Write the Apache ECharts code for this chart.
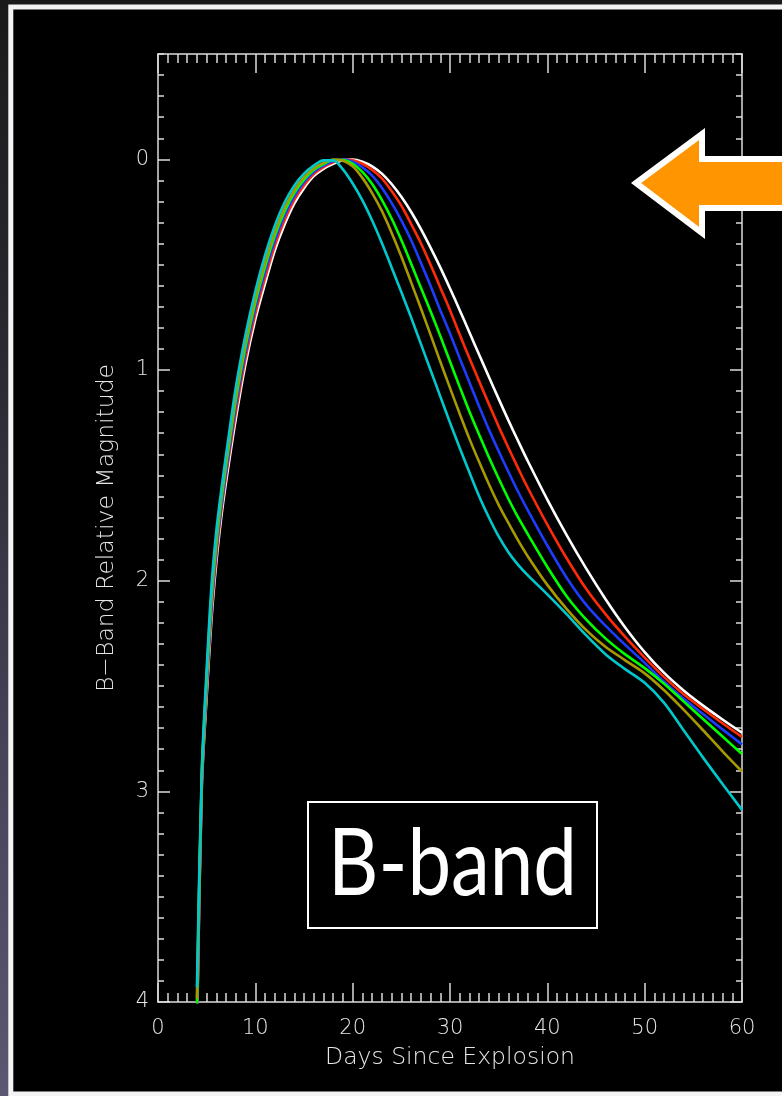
<!DOCTYPE html>
<html><head><meta charset="utf-8">
<script src="https://cdn.jsdelivr.net/npm/echarts@6/dist/echarts.min.js"></script>
<style>html,body{margin:0;padding:0;background:#000;}#c{width:782px;height:1096px;}</style>
</head><body><div id="c"></div><script>
// Days since explosion (shared x values)
const days = [4, 4.5, 5, 5.5, 6, 6.5, 7, 8, 9, 10, 11, 12, 13, 14, 15, 16, 17, 18, 19, 20, 21, 22, 23, 24, 25, 26, 27, 28, 29, 30, 31, 32, 33, 34, 35, 36, 37, 38, 40, 42, 44, 46, 48, 50, 52, 54, 56, 58, 60];
// B-band relative magnitude per model
const magWhite = [4.15, 2.98, 2.55, 2.18, 1.91, 1.70, 1.53, 1.23, 0.97, 0.76, 0.59, 0.433, 0.31, 0.21, 0.137, 0.08, 0.045, 0.021, 0.004, 0.001, 0.011, 0.033, 0.068, 0.117, 0.178, 0.249, 0.330, 0.419, 0.513, 0.613, 0.716, 0.822, 0.928, 1.033, 1.137, 1.239, 1.337, 1.433, 1.615, 1.785, 1.943, 2.089, 2.222, 2.339, 2.438, 2.521, 2.593, 2.659, 2.722];
const magRed   = [4.11, 2.96, 2.52, 2.15, 1.88, 1.67, 1.50, 1.20, 0.942, 0.733, 0.563, 0.409, 0.289, 0.193, 0.123, 0.07, 0.037, 0.014, 0.001, 0.005, 0.021, 0.05, 0.09, 0.15, 0.22, 0.306, 0.397, 0.50, 0.608, 0.716, 0.832, 0.944, 1.054, 1.162, 1.268, 1.369, 1.466, 1.56, 1.734, 1.895, 2.04, 2.16, 2.267, 2.365, 2.458, 2.539, 2.609, 2.677, 2.742];
const magBlue  = [4.06, 2.95, 2.50, 2.12, 1.85, 1.65, 1.48, 1.17, 0.914, 0.706, 0.536, 0.386, 0.268, 0.176, 0.109, 0.06, 0.03, 0.008, 0.001, 0.011, 0.038, 0.077, 0.135, 0.207, 0.29, 0.383, 0.49, 0.60, 0.716, 0.827, 0.944, 1.059, 1.173, 1.283, 1.385, 1.483, 1.578, 1.666, 1.833, 1.987, 2.115, 2.215, 2.305, 2.39, 2.48, 2.561, 2.633, 2.706, 2.777];
const magGreen = [4.02, 2.93, 2.47, 2.08, 1.82, 1.62, 1.45, 1.14, 0.886, 0.679, 0.509, 0.362, 0.247, 0.159, 0.096, 0.05, 0.023, 0.003, 0.003, 0.021, 0.06, 0.117, 0.192, 0.281, 0.383, 0.494, 0.608, 0.721, 0.838, 0.96, 1.08, 1.198, 1.307, 1.414, 1.515, 1.611, 1.70, 1.78, 1.935, 2.075, 2.185, 2.275, 2.35, 2.415, 2.489, 2.573, 2.657, 2.74, 2.823];
const magOlive = [3.985, 2.92, 2.45, 2.06, 1.80, 1.60, 1.43, 1.12, 0.865, 0.659, 0.489, 0.345, 0.231, 0.146, 0.085, 0.043, 0.017, 0.001, 0.007, 0.033, 0.088, 0.16, 0.245, 0.348, 0.461, 0.583, 0.706, 0.832, 0.96, 1.085, 1.208, 1.327, 1.437, 1.542, 1.64, 1.726, 1.809, 1.885, 2.02, 2.135, 2.235, 2.315, 2.378, 2.44, 2.52, 2.612, 2.71, 2.81, 2.906];
const magCyan  = [3.93, 2.90, 2.42, 2.02, 1.76, 1.57, 1.40, 1.08, 0.83, 0.625, 0.455, 0.315, 0.205, 0.125, 0.068, 0.03, 0.005, 0.005, 0.048, 0.115, 0.195, 0.29, 0.397, 0.513, 0.63, 0.75, 0.875, 1.0, 1.125, 1.25, 1.37, 1.487, 1.60, 1.70, 1.79, 1.865, 1.925, 1.975, 2.065, 2.16, 2.26, 2.35, 2.42, 2.485, 2.58, 2.71, 2.84, 2.965, 3.088];
// Tick labels
const xTickLabels = [0, 10, 20, 30, 40, 50, 60];
const yTickLabels = [0, 1, 2, 3, 4];

const seriesDefs = [
  {name: 'white', data: magWhite, color: '#ffffff'},
  {name: 'red', data: magRed, color: '#ff2a0a'},
  {name: 'blue', data: magBlue, color: '#1e3cff'},
  {name: 'green', data: magGreen, color: '#00ff00'},
  {name: 'olive', data: magOlive, color: '#a69a00'},
  {name: 'cyan', data: magCyan, color: '#00c8cc'}
];

const yMinorTicks = [];
for (let i = -5; i <= 40; i++) { if (i % 10 !== 0) yMinorTicks.push(i / 10); }

const FONT = 'DejaVu Sans';
const txtColor = '#e6e6e6';
const axisCol = '#dcdcdc';

function yAx(pos, major, withLabels) {
  return {
    type: 'value', position: pos, min: -0.5, max: 4, interval: 0.5, inverse: true,
    axisLine: {show: major, onZero: false, lineStyle: {color: axisCol, width: 1.5}},
    axisTick: {show: true, inside: true, length: major ? 12 : 6, customValues: major ? yTickLabels : yMinorTicks, lineStyle: {color: axisCol, width: 1.5}},
    minorTick: {show: false},
    splitLine: {show: false},
    axisLabel: withLabels ? {show: true, customValues: yTickLabels, margin: 9, color: txtColor, fontFamily: FONT, fontSize: 21, fontWeight: 300, formatter: v => String(Math.round(v))} : {show: false},
    name: withLabels ? 'B\u2212Band Relative Magnitude' : '',
    nameLocation: 'middle', nameRotate: 90, nameGap: 39,
    nameTextStyle: {color: txtColor, fontFamily: FONT, fontSize: 23.5, fontWeight: 300}
  };
}
function xAx(pos, withLabels) {
  return {
    type: 'value', position: pos, min: 0, max: 60, interval: 10,
    axisLine: {show: true, onZero: false, lineStyle: {color: axisCol, width: 1.5}},
    axisTick: {show: true, inside: true, length: 19, lineStyle: {color: axisCol, width: 1.5}},
    minorTick: {show: true, splitNumber: 10, length: 9, lineStyle: {color: axisCol, width: 1.5}},
    splitLine: {show: false},
    axisLabel: withLabels ? {show: true, margin: 16, color: txtColor, fontFamily: FONT, fontSize: 21, fontWeight: 300,
      formatter: v => xTickLabels.indexOf(v) >= 0 ? String(v) : ''} : {show: false},
    name: withLabels ? 'Days Since Explosion' : '',
    nameLocation: 'middle', nameGap: 44,
    nameTextStyle: {color: txtColor, fontFamily: FONT, fontSize: 23.5, fontWeight: 300}
  };
}

const chart = echarts.init(document.getElementById('c'), null, {renderer: 'canvas'});
chart.setOption({
  backgroundColor: '#000000',
  animation: false,
  grid: {left: 158, top: 54, width: 584, height: 948, containLabel: false},
  xAxis: [xAx('bottom', true), xAx('top', false)],
  yAxis: [yAx('left', true, true), yAx('left', false, false), yAx('right', true, false), yAx('right', false, false)],
  series: seriesDefs.map(s => ({
    name: s.name, type: 'line', xAxisIndex: 0, yAxisIndex: 0,
    data: days.map((d, i) => [d, s.data[i]]),
    showSymbol: false, smooth: 0.3, clip: true,
    lineStyle: {color: s.color, width: 2.6},
    emphasis: {disabled: true}
  })),
  graphic: [
    {type: 'rect', z: 50, silent: true, shape: {x: 0, y: 0, width: 782, height: 5}, style: {fill: '#1a1a1a'}},
    {type: 'rect', z: 50, silent: true, shape: {x: 0, y: 0, width: 9, height: 1096},
      style: {fill: new echarts.graphic.LinearGradient(0, 0, 0, 1, [
        {offset: 0, color: '#1a1a1a'}, {offset: 0.35, color: '#2c2a33'}, {offset: 0.7, color: '#48445a'}, {offset: 1, color: '#5c5772'}])}},
    {type: 'rect', z: 51, silent: true, shape: {x: 10.8, y: 7, width: 800, height: 1087}, style: {fill: 'none', stroke: '#f4f4f4', lineWidth: 5}},
    {type: 'rect', z: 60, silent: true, shape: {x: 308, y: 802, width: 289, height: 126}, style: {fill: '#000', stroke: '#ffffff', lineWidth: 2}},
    {type: 'text', z: 61, silent: true, x: 452.5, y: 865, scaleY: 1.2, style: {x: 0, y: 0, text: 'B-band', fill: '#ffffff', font: '400 78px Lato', align: 'center', verticalAlign: 'middle'}},
    {type: 'polygon', z: 70, silent: true, shape: {points: [[636, 183], [702, 134], [702, 159], [800, 159], [800, 208], [702, 208], [702, 233]]},
      style: {fill: '#ff9500', stroke: '#ffffff', lineWidth: 6, lineJoin: 'miter', miterLimit: 10}}
  ]
});
</script></body></html>
